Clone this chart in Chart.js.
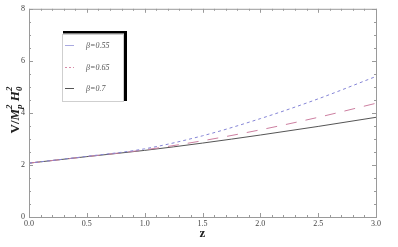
<!DOCTYPE html>
<html><head><meta charset="utf-8">
<script src="https://cdn.jsdelivr.net/npm/chart.js@4"></script>
<style>html,body{margin:0;padding:0;background:#fff}#wrap{width:398px;height:247px}</style>
</head><body><div id="wrap"><canvas id="c" width="398" height="247"></canvas></div>
<script>
const zValues = [0, 0.5, 1.0, 1.5, 2.0, 2.5, 3.0];
const beta055 = [2.07, 2.33, 2.62, 3.12, 3.78, 4.54, 5.40];
const beta065 = [2.07, 2.32, 2.58, 2.93, 3.35, 3.83, 4.37];
const beta07  = [2.07, 2.32, 2.56, 2.84, 3.15, 3.48, 3.83];
const seriesLabels = ['\u03b2=0.55', '\u03b2=0.65', '\u03b2=0.7'];
const xTickValues = [0, 0.5, 1.0, 1.5, 2.0, 2.5, 3.0];
const yTickValues = [0, 2, 4, 6, 8];

const pts = arr => zValues.map((z, i) => ({x: z, y: arr[i]}));
const serif = "'Liberation Serif', 'DejaVu Serif', serif";

const framePlugin = {
  id: 'frame',
  afterDraw(chart) {
    const {ctx, chartArea: a, scales: {x, y}} = chart;
    ctx.save();
    ctx.strokeStyle = '#9a9a9a';
    ctx.lineWidth = 1;
    ctx.strokeRect(a.left + 0.5, a.top + 0.5, a.right - a.left, a.bottom - a.top);
    ctx.beginPath();
    for (let v = 0; v <= 3.0001; v += 0.1) {
      const px = Math.round(x.getPixelForValue(v)) + 0.5;
      const major = Math.abs(v * 2 - Math.round(v * 2)) < 1e-6;
      const L = major ? 4 : 2;
      ctx.moveTo(px, a.bottom); ctx.lineTo(px, a.bottom - L);
      ctx.moveTo(px, a.top); ctx.lineTo(px, a.top + L);
    }
    for (let v = 0; v <= 8.0001; v += 0.5) {
      const py = Math.round(y.getPixelForValue(v)) + 0.5;
      const major = Math.abs(v / 2 - Math.round(v / 2)) < 1e-6;
      const L = major ? 4 : 2;
      ctx.moveTo(a.left, py); ctx.lineTo(a.left + L, py);
      ctx.moveTo(a.right, py); ctx.lineTo(a.right - L, py);
    }
    ctx.stroke();

    ctx.fillStyle = '#222';
    ctx.font = "bold 13px " + serif;
    ctx.textAlign = 'center';
    ctx.textBaseline = 'middle';
    ctx.fillText('z', (a.left + a.right) / 2, 234);

    ctx.translate(15, 110);
    ctx.rotate(-Math.PI / 2);
    ctx.textAlign = 'left';
    ctx.textBaseline = 'alphabetic';
    const big = "bold 13px " + serif, small = "bold italic 9px " + serif, mid = "bold italic 13px " + serif;
    const parts = [
      ['V/', big, 0], ['M', mid, 0], ['p', small, 3], ['2', small, -7, true],
      [' ', big, 0], ['H', mid, 0], ['0', small, 3], ['2', small, -7, true]
    ];
    const meas = [];
    parts.forEach(p => { ctx.font = p[1]; meas.push(ctx.measureText(p[0]).width); });
    let xs = [], cur = 0, subStart = 0;
    parts.forEach((p, i) => {
      if (p[3]) { xs.push(subStart); cur = Math.max(cur, subStart + meas[i]); }
      else { xs.push(cur); subStart = cur; cur += meas[i]; }
    });
    const start = -cur / 2;
    parts.forEach((p, i) => {
      ctx.font = p[1];
      ctx.fillText(p[0], start + xs[i], 4 + p[2]);
    });
    ctx.restore();

    ctx.save();
    ctx.fillStyle = '#000';
    ctx.fillRect(63, 31, 64, 2.5);
    ctx.fillRect(124, 31, 3, 70);
    ctx.fillStyle = '#fff';
    ctx.fillRect(62, 34, 62, 68);
    ctx.strokeStyle = '#cfcfcf';
    ctx.lineWidth = 1;
    ctx.strokeRect(62.5, 34.5, 61, 67);
    const rows = [45, 67, 88];
    const styles = [
      {c: '#a9a9e0', d: []},
      {c: '#d88aa8', d: [2, 2]},
      {c: '#555555', d: []}
    ];
    rows.forEach((ry, i) => {
      ctx.beginPath();
      ctx.strokeStyle = styles[i].c;
      ctx.setLineDash(styles[i].d);
      ctx.lineWidth = 1;
      ctx.moveTo(65, ry + 0.5); ctx.lineTo(74, ry + 0.5);
      ctx.stroke();
      ctx.setLineDash([]);
      ctx.fillStyle = '#555';
      ctx.font = "italic 8px " + serif;
      ctx.textAlign = 'left';
      ctx.textBaseline = 'middle';
      ctx.fillText(seriesLabels[i], 86, ry + 0.5);
    });
    ctx.restore();
  }
};

new Chart(document.getElementById('c'), {
  type: 'line',
  data: {
    datasets: [
      {label: seriesLabels[0], data: pts(beta055), borderColor: '#8585d6', borderDash: [3, 3], borderWidth: 1, pointRadius: 0, cubicInterpolationMode: 'monotone', fill: false},
      {label: seriesLabels[1], data: pts(beta065), borderColor: '#cc7fa0', borderDash: [11, 9], borderWidth: 1, pointRadius: 0, cubicInterpolationMode: 'monotone', fill: false},
      {label: seriesLabels[2], data: pts(beta07), borderColor: '#555555', borderWidth: 1, pointRadius: 0, cubicInterpolationMode: 'monotone', fill: false}
    ]
  },
  options: {
    responsive: false,
    animation: false,
    devicePixelRatio: 1,
    layout: {padding: {top: 4, right: 22, left: 0, bottom: 0}},
    plugins: {legend: {display: false}, tooltip: {enabled: false}},
    scales: {
      x: {
        type: 'linear', min: 0, max: 3,
        afterFit(s) { s.height = 30; },
        afterBuildTicks(s) { s.ticks = xTickValues.map(v => ({value: v})); },
        grid: {display: false, drawTicks: false},
        border: {display: false},
        ticks: {color: '#444', font: {family: serif, size: 8}, padding: 2, maxRotation: 0, autoSkip: false,
          callback: v => Number(v).toFixed(1)}
      },
      y: {
        type: 'linear', min: 0, max: 8,
        afterFit(s) { s.width = 29; },
        afterBuildTicks(s) { s.ticks = yTickValues.map(v => ({value: v})); },
        grid: {display: false, drawTicks: false},
        border: {display: false},
        ticks: {color: '#444', font: {family: serif, size: 8}, padding: 4,
          callback: v => String(v)}
      }
    }
  },
  plugins: [framePlugin]
});
</script>
</body></html>
